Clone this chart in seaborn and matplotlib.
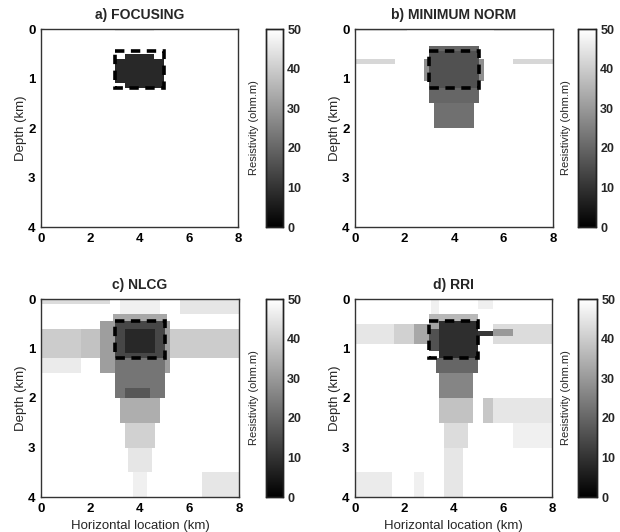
import numpy as np
import matplotlib
matplotlib.use("Agg")
import matplotlib.pyplot as plt
import matplotlib.patches as mpatches
import seaborn as sns

# ---------------- data ----------------
# model grid: horizontal 0-8 km, depth 0-4 km
X_MAX_KM = 8.0
Z_MAX_KM = 4.0
DX_KM = 0.1
DZ_KM = 0.05
BACKGROUND_RES = 50.0

# true anomaly outline (km)
TRUE_X = [3.0, 5.0]
TRUE_Z = [0.45, 1.2]

# resistivity blocks: (x0, x1, z0, z1, ohm.m); later blocks overwrite earlier ones
FOCUSING_BLOCKS = [
    (3.0, 4.6, 0.0, 0.05, 46),
    (3.0, 5.0, 0.5, 1.2, 8),
    (4.6, 5.0, 0.5, 0.6, 50),
    (3.0, 3.4, 0.5, 0.6, 50),
    (3.0, 3.4, 1.1, 1.2, 50),
]

MINNORM_BLOCKS = [
    (0.0, 2.1, 0.0, 0.05, 45),
    (5.6, 8.0, 0.0, 0.05, 45),
    (0.0, 1.6, 0.6, 0.7, 42),
    (6.4, 8.0, 0.6, 0.7, 42),
    (2.8, 5.2, 0.6, 1.05, 28),
    (3.0, 5.0, 0.35, 1.5, 20),
    (3.0, 5.0, 0.45, 1.2, 16),
    (3.2, 4.8, 1.5, 2.0, 22),
]

NLCG_BLOCKS = [
    (0.0, 2.8, 0.0, 0.08, 43),
    (5.6, 8.0, 0.0, 0.3, 45),
    (3.2, 4.8, 0.0, 0.3, 47),
    (0.0, 1.6, 0.6, 1.2, 40),
    (0.0, 1.6, 1.2, 1.5, 46),
    (1.6, 2.4, 0.6, 1.2, 38),
    (5.0, 8.0, 0.6, 1.2, 40),
    (2.4, 5.2, 0.45, 1.5, 31),
    (2.9, 5.1, 0.3, 0.45, 33),
    (3.0, 5.0, 0.45, 1.2, 14),
    (3.4, 4.6, 0.6, 1.1, 8),
    (3.0, 5.0, 1.2, 1.5, 23),
    (3.0, 5.0, 1.5, 2.0, 23),
    (3.4, 4.4, 1.8, 2.0, 17),
    (3.2, 4.8, 2.0, 2.5, 34),
    (3.4, 4.6, 2.5, 3.0, 41),
    (3.5, 4.5, 3.0, 3.5, 45),
    (3.7, 4.3, 3.5, 4.0, 47),
    (6.5, 8.0, 3.5, 4.0, 45),
]

RRI_BLOCKS = [
    (3.1, 3.4, 0.0, 0.3, 47),
    (5.0, 5.6, 0.0, 0.2, 47),
    (0.0, 1.6, 0.5, 0.9, 45),
    (1.6, 2.4, 0.5, 0.9, 41),
    (5.6, 8.0, 0.5, 0.9, 43),
    (2.4, 3.0, 0.5, 0.9, 33),
    (5.6, 6.4, 0.6, 0.75, 30),
    (5.0, 5.6, 0.65, 0.75, 11),
    (3.0, 5.0, 0.3, 0.45, 36),
    (3.0, 3.4, 0.45, 0.6, 32),
    (3.0, 3.4, 0.6, 1.05, 16),
    (3.4, 5.0, 0.45, 1.2, 9),
    (3.3, 5.0, 1.2, 1.5, 20),
    (3.4, 4.8, 1.5, 2.0, 26),
    (3.4, 4.8, 2.0, 2.5, 38),
    (5.2, 8.0, 2.0, 2.5, 45),
    (5.2, 5.6, 2.0, 2.5, 39),
    (6.4, 8.0, 2.5, 3.0, 47),
    (3.6, 4.6, 2.5, 3.0, 43),
    (3.6, 4.4, 3.0, 4.0, 45),
    (0.0, 1.5, 3.5, 4.0, 46),
    (2.4, 2.8, 3.5, 4.0, 47),
]

PANEL_TITLES = ["a) FOCUSING", "b) MINIMUM NORM", "c) NLCG", "d) RRI"]
PANEL_BLOCKS = [FOCUSING_BLOCKS, MINNORM_BLOCKS, NLCG_BLOCKS, RRI_BLOCKS]

X_TICKS = [0, 2, 4, 6, 8]
Z_TICKS = [0, 1, 2, 3, 4]
CBAR_TICKS = [0, 10, 20, 30, 40, 50]
RES_MIN, RES_MAX = 0, 50


def build_grid(blocks):
    nx = int(round(X_MAX_KM / DX_KM))
    nz = int(round(Z_MAX_KM / DZ_KM))
    grid = np.full((nz, nx), BACKGROUND_RES)
    for x0, x1, z0, z1, v in blocks:
        i0, i1 = int(round(x0 / DX_KM)), int(round(x1 / DX_KM))
        j0, j1 = int(round(z0 / DZ_KM)), int(round(z1 / DZ_KM))
        grid[j0:j1, i0:i1] = v
    return grid


# ---------------- figure ----------------
sns.set_style("white")
plt.rcParams["font.family"] = ["Liberation Sans", "DejaVu Sans"]

W, H = 620, 532
fig = plt.figure(figsize=(W / 100, H / 100), dpi=100)

# pixel layout (left, top, right, bottom) for axes and colorbars
AX_PX = [(41, 29, 238, 227), (355, 29, 553, 227), (41, 299, 239, 497), (355, 299, 552, 497)]
CB_PX = [(266, 29, 283, 227), (578, 29, 596, 227), (266, 299, 283, 497), (578, 299, 597, 497)]


def px_rect(l, t, r, b):
    return [l / W, 1 - b / H, (r - l) / W, (b - t) / H]


for k in range(4):
    ax = fig.add_axes(px_rect(*AX_PX[k]))
    cax = fig.add_axes(px_rect(*CB_PX[k]))
    grid = build_grid(PANEL_BLOCKS[k])
    sns.heatmap(grid, ax=ax, cmap="gray", vmin=RES_MIN, vmax=RES_MAX,
                cbar_ax=cax, xticklabels=False, yticklabels=False,
                cbar_kws={"ticks": CBAR_TICKS})

    sx = 1 / DX_KM
    sz = 1 / DZ_KM
    ax.set_xlim(0, X_MAX_KM * sx)
    ax.set_ylim(Z_MAX_KM * sz, 0)
    ax.set_xticks([t * sx for t in X_TICKS])
    ax.set_xticklabels([str(t) for t in X_TICKS], fontsize=9.5, fontweight="bold")
    ax.set_yticks([t * sz for t in Z_TICKS])
    ax.set_yticklabels([str(t) for t in Z_TICKS], fontsize=9.5, fontweight="bold",
                       rotation=0)
    ax.tick_params(axis="both", direction="in", length=2.5, width=0.8,
                   top=True, right=True, bottom=True, left=True, pad=4,
                   colors="#222222", labelcolor="black")
    for s in ax.spines.values():
        s.set_visible(True)
        s.set_color("#333333")
        s.set_linewidth(1.0)

    # true anomaly outline
    rect = mpatches.Rectangle((TRUE_X[0] * sx, TRUE_Z[0] * sz),
                              (TRUE_X[1] - TRUE_X[0]) * sx,
                              (TRUE_Z[1] - TRUE_Z[0]) * sz,
                              fill=False, edgecolor="black", linewidth=2.6,
                              linestyle=(0, (2.6, 1.8)), zorder=5)
    ax.add_patch(rect)

    ax.set_title(PANEL_TITLES[k], fontsize=10, fontweight="bold", pad=7)
    ax.set_ylabel("Depth (km)", fontsize=9.5, labelpad=1)
    if k >= 2:
        ax.set_xlabel("Horizontal location (km)", fontsize=9.5, labelpad=4)

    # colorbar styling
    cax.yaxis.set_ticks_position("both")
    cax.tick_params(axis="y", direction="in", length=2.5, width=0.8,
                    labelleft=False, labelright=True, labelsize=9, pad=3)
    for lab in cax.get_yticklabels():
        lab.set_fontweight("bold")
    cax.yaxis.set_label_position("left")
    cax.set_ylabel("Resistivity (ohm.m)", fontsize=8, labelpad=5)
    for s in cax.spines.values():
        s.set_visible(True)
        s.set_color("#222222")
        s.set_linewidth(1.0)

fig.savefig("out.png", dpi=100)
